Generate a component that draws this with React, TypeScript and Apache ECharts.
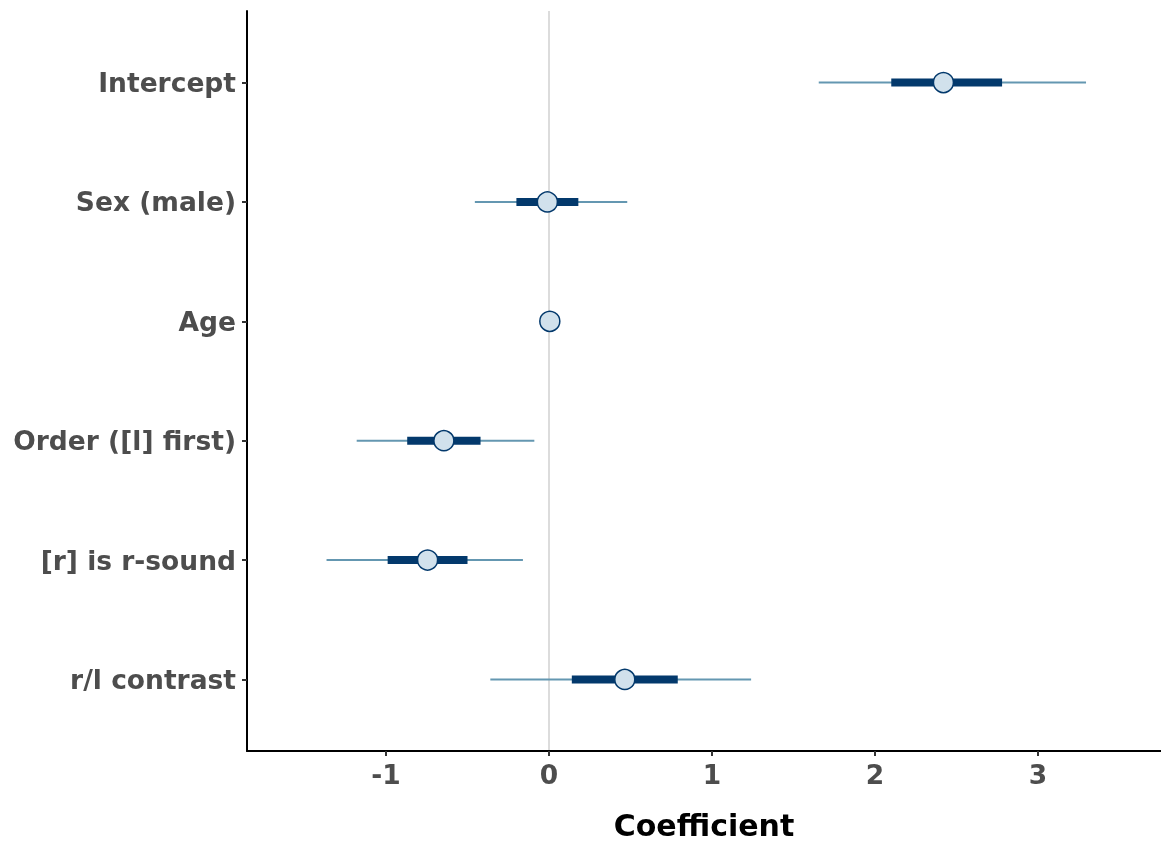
import React, { useEffect, useRef } from "react";
import * as echarts from "echarts";

const categories = ["Intercept", "Sex (male)", "Age", "Order ([l] first)", "[r] is r-sound", "r/l contrast"];
const estimates = [2.42, -0.01, 0.005, -0.645, -0.745, 0.465];
const thickLow = [2.1, -0.2, -0.005, -0.87, -0.99, 0.14];
const thickHigh = [2.78, 0.18, 0.015, -0.42, -0.5, 0.79];
const thinLow = [1.655, -0.455, -0.015, -1.18, -1.365, -0.36];
const thinHigh = [3.295, 0.48, 0.025, -0.09, -0.16, 1.24];
const xTicks = [-1, 0, 1, 2, 3];

export default function App() {
  const ref = useRef<HTMLDivElement>(null);
  useEffect(() => {
    if (!ref.current) return;
    const chart = echarts.init(ref.current, undefined, { renderer: "svg" });
    const yIdx = categories.map((_, i) => i + 1);
    const intervalData = categories.map((_, i) => [yIdx[i], thinLow[i], thinHigh[i], thickLow[i], thickHigh[i]]);
    const pointData = categories.map((_, i) => [estimates[i], yIdx[i]]);
    const labelFont = { fontFamily: "DejaVu Sans", fontWeight: "bold" as const, fontSize: 26.5, color: "#4d4d4d" };
    chart.setOption({
      animation: false,
      grid: { left: 247, right: 0, top: 11, bottom: 94, containLabel: false, outerBoundsMode: "none" },
      xAxis: {
        type: "value",
        min: -1.853,
        max: 3.755,
        name: "Coefficient",
        nameLocation: "middle",
        nameGap: 59,
        nameTextStyle: { fontFamily: "DejaVu Sans", fontWeight: "bold", fontSize: 30, color: "#000" },
        axisLine: { show: true, onZero: false, lineStyle: { color: "#000", width: 2 } },
        axisTick: { show: true, length: 5, customValues: xTicks, lineStyle: { color: "#333", width: 2 } },
        axisLabel: { ...labelFont, margin: 10, customValues: xTicks, formatter: (v: number) => String(v) },
        splitLine: { show: false },
      },
      yAxis: {
        type: "value",
        min: 0.4,
        max: 6.6,
        inverse: true,
        axisLine: { show: true, onZero: false, lineStyle: { color: "#000", width: 2 } },
        axisTick: { show: true, length: 5, customValues: yIdx, lineStyle: { color: "#333", width: 2 } },
        axisLabel: {
          ...labelFont,
          margin: 11,
          customValues: yIdx,
          formatter: (v: number) => categories[Math.round(v) - 1] ?? "",
        },
        splitLine: { show: false },
      },
      series: [
        {
          type: "custom",
          data: intervalData,
          encode: { x: [1, 2, 3, 4], y: 0 },
          renderItem: (params: any, api: any) => {
            const y = api.value(0);
            const a = api.coord([api.value(1), y]);
            const b = api.coord([api.value(2), y]);
            const c = api.coord([api.value(3), y]);
            const d = api.coord([api.value(4), y]);
            return {
              type: "group",
              children: [
                { type: "line", shape: { x1: a[0], y1: a[1], x2: b[0], y2: b[1] }, style: { stroke: "#6497b1", lineWidth: 2 } },
                { type: "line", shape: { x1: c[0], y1: c[1], x2: d[0], y2: d[1] }, style: { stroke: "#03396c", lineWidth: 8 } },
              ],
            };
          },
          markLine: {
            silent: true,
            symbol: "none",
            label: { show: false },
            lineStyle: { color: "#dcdcdc", width: 2, type: "solid" },
            data: [{ xAxis: 0 }],
            z: 0,
          },
          z: 2,
        },
        {
          type: "scatter",
          data: pointData,
          symbol: "circle",
          symbolSize: 20,
          itemStyle: { color: "#d1e1ec", borderColor: "#03396c", borderWidth: 1.5, opacity: 1 },
          z: 3,
        },
      ],
    });
    return () => chart.dispose();
  }, []);
  return <div ref={ref} style={{ position: "fixed", left: 0, top: 0, width: 1161, height: 845 }} />;
}
